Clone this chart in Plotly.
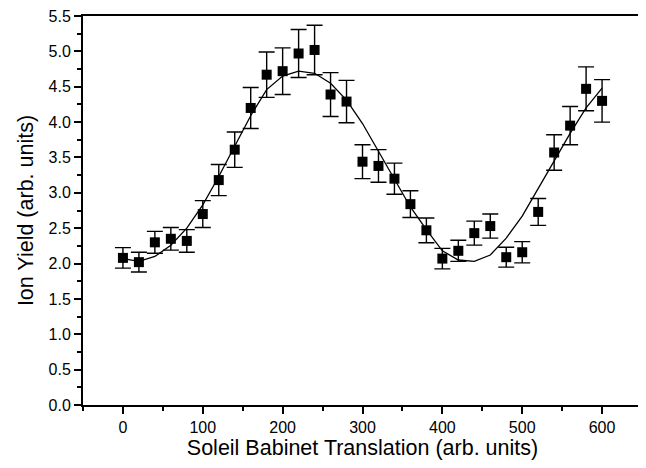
import plotly.graph_objects as go

x_vals = [0, 20, 40, 60, 80, 100, 120, 140, 160, 180, 200, 220, 240, 260, 280, 300,
          320, 340, 360, 380, 400, 420, 440, 460, 480, 500, 520, 540, 560, 580, 600]
ion_yield = [2.08, 2.02, 2.30, 2.35, 2.32, 2.70, 3.18, 3.61, 4.20, 4.67, 4.72, 4.97, 5.02, 4.39, 4.29, 3.44,
             3.38, 3.20, 2.84, 2.47, 2.07, 2.18, 2.43, 2.53, 2.09, 2.16, 2.73, 3.57, 3.95, 4.47, 4.30]
yield_err = [0.145, 0.14, 0.155, 0.16, 0.16, 0.19, 0.22, 0.25, 0.29, 0.32, 0.33, 0.34, 0.35, 0.31, 0.30, 0.24,
             0.23, 0.22, 0.19, 0.175, 0.145, 0.15, 0.17, 0.17, 0.14, 0.15, 0.19, 0.25, 0.27, 0.31, 0.30]
fit_curve = [2.07, 2.03, 2.10, 2.26, 2.50, 2.83, 3.23, 3.65, 4.09, 4.46, 4.65, 4.72, 4.69, 4.55, 4.31, 3.98,
             3.58, 3.18, 2.80, 2.48, 2.18, 2.05, 2.03, 2.12, 2.36, 2.67, 3.06, 3.44, 3.84, 4.20, 4.48]

fig = go.Figure()
fig.add_trace(go.Scatter(
    x=x_vals, y=fit_curve, mode="lines",
    line=dict(color="black", width=1.3), showlegend=False, hoverinfo="skip"))
fig.add_trace(go.Scatter(
    x=x_vals, y=ion_yield, mode="markers",
    marker=dict(symbol="square", size=10, color="black"),
    error_y=dict(type="data", array=yield_err, visible=True, color="black", thickness=1.4, width=8),
    showlegend=False))

font_family = "Liberation Sans, Arial, sans-serif"
fig.update_layout(
    width=638, height=460,
    margin=dict(l=75, r=4, t=8, b=63),
    paper_bgcolor="white", plot_bgcolor="white",
    font=dict(family=font_family, color="black", size=16),
    xaxis=dict(
        range=[-50, 650], dtick=100, tick0=0, automargin=False,
        showline=True, linecolor="black", linewidth=2, mirror=True,
        ticks="outside", ticklen=7, tickwidth=2, tickcolor="black",
        showgrid=False, zeroline=False, ticklabeloverflow="allow",
        tickfont=dict(size=16),
        minor=dict(dtick=50, tick0=0, ticks="outside", ticklen=4, tickwidth=2, tickcolor="black", showgrid=False),
        title=dict(text="Soleil Babinet Translation (arb. units)", font=dict(size=21.5), standoff=4),
    ),
    yaxis=dict(
        range=[0, 5.5], dtick=0.5, tick0=0, tickformat=".1f", automargin=False,
        showline=True, linecolor="black", linewidth=2, mirror=True,
        ticks="outside", ticklen=7, tickwidth=2, tickcolor="black",
        showgrid=False, zeroline=False, ticklabeloverflow="allow",
        tickfont=dict(size=16),
        minor=dict(dtick=0.25, tick0=0, ticks="outside", ticklen=4, tickwidth=2, tickcolor="black", showgrid=False),
        title=dict(text="Ion Yield (arb. units)", font=dict(size=21.5), standoff=9),
    ),
)

fig.write_html("out.html")
